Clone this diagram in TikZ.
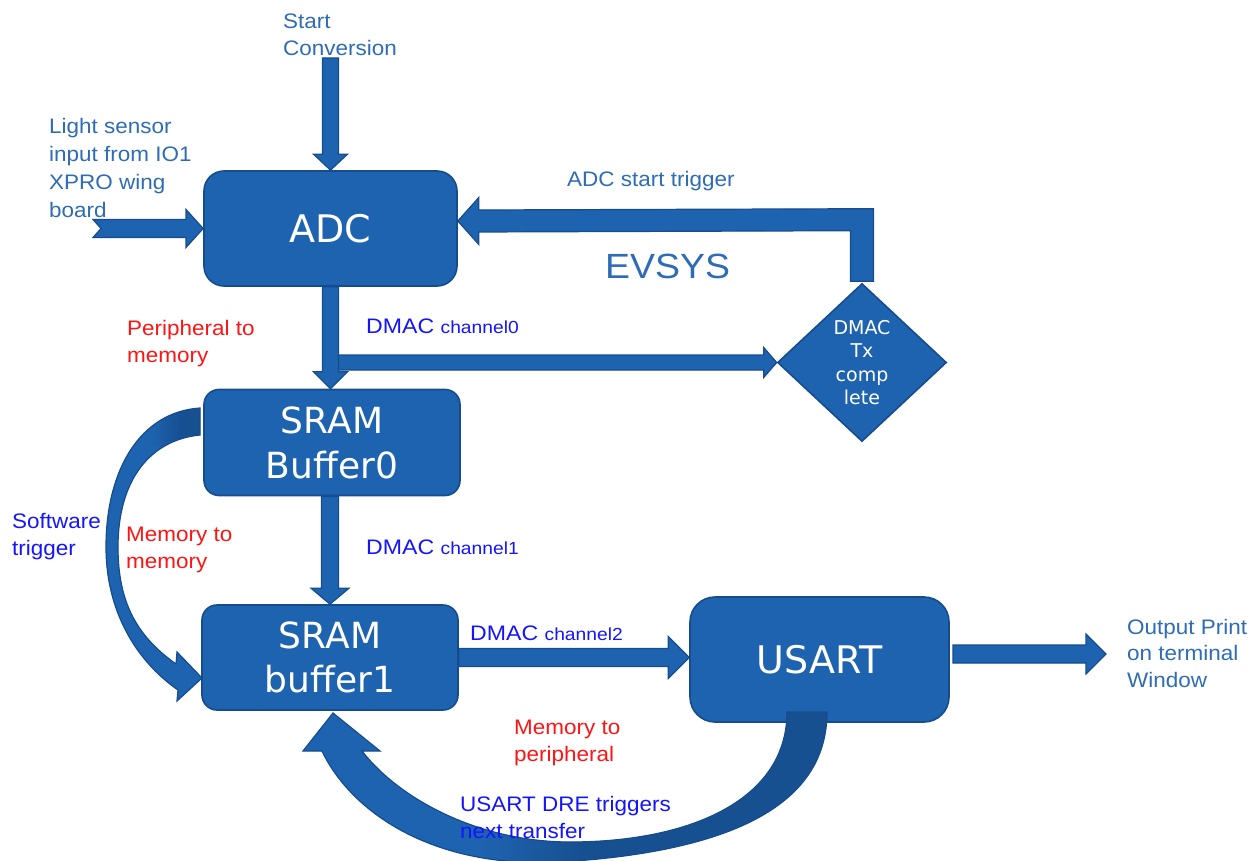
\documentclass[tikz,border=0pt]{standalone}
\usepackage{fontspec}
\setmainfont{Liberation Sans}[FakeStretch=1.07]
\newfontfamily\chanfont{Liberation Sans}[FakeStretch=1.1]
\newfontfamily\boxfont{DejaVu Sans}
\usetikzlibrary{calc,shapes.geometric}

\definecolor{blockfill}{HTML}{1E63B0}
\definecolor{blockedge}{HTML}{164C8C}
\definecolor{blockdark}{HTML}{175091}
\definecolor{labelblue}{HTML}{2E6CB5}
\definecolor{chanblue}{HTML}{1414FF}
\definecolor{modered}{HTML}{FF1414}

\tikzset{
  block/.style={draw=blockedge, fill=blockfill, line width=1.6pt, rounded corners=18pt,
    text=white, align=center, inner sep=0pt},
  blockarrow/.style={draw=blockedge, fill=blockfill, line width=1.2pt, line join=miter},
  lbl/.style={inner sep=0pt, text=labelblue, align=left, font=\fontsize{21}{26.5}\selectfont},
  chan/.style={inner sep=0pt, text=chanblue, align=left, font=\fontsize{21}{27}\selectfont},
  chanlbl/.style={inner sep=0pt, text=chanblue, font=\chanfont\fontsize{21}{24}\selectfont},
  mode/.style={inner sep=0pt, text=modered, align=left, font=\fontsize{21}{27}\selectfont},
}
\newcommand\chansmall[1]{{\fontsize{17.5}{20}\selectfont #1}}

% straight block arrow: [style] {from} {to} {shaft half width} {head half width} {head length}
\newcommand\blkarrow[6][]{%
  \coordinate (hb) at ($(#3)!#6!(#2)$);
  \draw[blockarrow,#1] ($(#2)!#4!90:(#3)$) -- ($(hb)!#4!90:(#3)$) -- ($(hb)!#5!90:(#3)$)
    -- (#3) -- ($(hb)!#5!-90:(#3)$) -- ($(hb)!#4!-90:(#3)$) -- ($(#2)!#4!-90:(#3)$) -- cycle;
}

% curved arrow from SRAM Buffer0 back round to SRAM buffer1
\newcommand\softcurve[1]{%
  \path[#1] (200,408) .. controls (140,412) and (106,470) .. (106,547)
    .. controls (106,610) and (135,660) .. (178,690) -- (177,701) -- (202,678)
    -- (177,652) -- (176,664) .. controls (135,635) and (118,600) .. (118,547)
    .. controls (118,480) and (150,440) .. (200,435) -- cycle;
}

% curved arrow from USART round underneath to SRAM buffer1
\newcommand\drecurve[1]{%
  \path[#1] (827,712) .. controls (827,790) and (760,850) .. (560,862)
    .. controls (430,869) and (350,810) .. (322,751) -- (303,751) -- (333,713)
    -- (380,751) -- (362,751) .. controls (400,800) and (480,842) .. (570,842)
    .. controls (690,842) and (787,800) .. (787,712) -- cycle;
}

\begin{document}
\begin{tikzpicture}[x=1pt,y=-1pt]
\useasboundingbox (0,0) rectangle (1256,861);

% ---- blocks ----
\node[block, minimum width=253pt, minimum height=115pt, rounded corners=20pt,
  font=\boxfont\fontsize{38}{40}\selectfont] (adc) at (330.5,228.5) {ADC};
\node[block, minimum width=256pt, minimum height=106pt, rounded corners=15pt,
  font=\boxfont\fontsize{36}{45}\selectfont] (buf0) at (332,442.5) {SRAM\\Buffer0};
\node[block, minimum width=256pt, minimum height=105pt, rounded corners=15pt,
  font=\boxfont\fontsize{36}{44}\selectfont] (buf1) at (330,657.5) {SRAM\\buffer1};
\node[block, minimum width=259pt, minimum height=125pt, rounded corners=25pt,
  font=\boxfont\fontsize{38}{40}\selectfont] (usart) at (819.5,659.5) {USART};
\node[diamond, draw=blockedge, fill=blockfill, line width=1.6pt, minimum width=169pt,
  minimum height=158pt, inner sep=0pt, text=white, align=center,
  font=\boxfont\fontsize{19}{23.5}\selectfont] (dmac) at (862,362.5) {DMAC\\Tx\\comp\\lete};

% ---- free ends of connectors ----
\coordinate (convin) at (330.5,58);
\coordinate (ch0from) at (336,362.5);
\coordinate (outfrom) at (953,654);
\coordinate (outto) at (1106,654);

% ---- straight connectors ----
\blkarrow{convin}{adc.north}{8pt}{17pt}{16pt}
\draw[blockarrow] (93,219.5) -- (186,219.5) -- (186,209.5) -- (adc.west) -- (186,247.5)
  -- (186,237.5) -- (93,237.5) -- (101,228.5) -- cycle;
\blkarrow{ch0from}{dmac.west}{7.5pt}{15pt}{13pt}
\blkarrow{adc.south}{adc.south |- buf0.north}{8pt}{17pt}{17pt}
\blkarrow{buf0.south -| buf1.north}{buf1.north}{8.5pt}{19pt}{16pt}
\blkarrow{buf1.east}{usart.west |- buf1.east}{9pt}{21pt}{21pt}
\blkarrow{outfrom}{outto}{9pt}{20pt}{20pt}

% EVSYS return path from the diamond to the ADC
\draw[blockarrow] ($(dmac.north)+(-11.5,-1.5)$) -- ($(dmac.north)+(-11.5,-52)$)
  -- ($(adc.east)+(21,3.5)$) -- ($(adc.east)+(21,16)$) -- ($(adc.east)+(0,-7.5)$)
  -- ($(adc.east)+(21,-31)$) -- ($(adc.east)+(21,-18.5)$)
  -- ($(dmac.north)+(11.5,-74)$) -- ($(dmac.north)+(11.5,-1.5)$) -- cycle;

% ---- curved connectors ----
\softcurve{fill=blockfill}
\begin{scope}
  \softcurve{clip}
  \shade[left color=blockfill, right color=blockdark] (150,400) rectangle (180,445);
  \fill[blockdark] (180,400) rectangle (205,445);
\end{scope}
\softcurve{draw=blockedge, line width=1.2pt, line join=miter}

\drecurve{fill=blockfill}
\begin{scope}
  \drecurve{clip}
  \shade[left color=blockfill, right color=blockdark] (480,690) rectangle (580,880);
  \fill[blockdark] (580,690) rectangle (840,880);
\end{scope}
\drecurve{draw=blockedge, line width=1.2pt, line join=miter}

% ---- labels ----
\node[lbl, anchor=north west] (lconv) at (283,14) {Start\\Conversion};
\node[lbl, anchor=north west, font=\fontsize{21}{28}\selectfont] (llight) at (49,118)
  {Light sensor\\input from IO1\\XPRO wing\\board};
\node[lbl, anchor=base west] (ltrig) at (567,187) {ADC start trigger};
\node[lbl, anchor=base west, font=\fontsize{35}{40}\selectfont] (levsys) at (605,278) {EVSYS};
\node[lbl, anchor=north west] (lout) at (1127,619) {Output Print\\on terminal\\Window};

\node[mode, anchor=north west] (lp2m) at (127,320) {Peripheral to\\memory};
\node[mode, anchor=north west] (lm2m) at (126,527) {Memory to\\memory};
\node[mode, anchor=north west] (lm2p) at (514,720) {Memory to\\peripheral};

\node[chanlbl, anchor=base west] (lch0) at (366,333) {DMAC \chansmall{channel0}};
\node[chanlbl, anchor=base west] (lch1) at (366,554) {DMAC \chansmall{channel1}};
\node[chanlbl, anchor=base west] (lch2) at (470,640) {DMAC \chansmall{channel2}};
\node[chan, anchor=north west] (lsw) at (12,513) {Software\\trigger};
\node[chan, anchor=north west] (ldre) at (460,796) {USART DRE triggers\\next transfer};
\end{tikzpicture}
\end{document}
